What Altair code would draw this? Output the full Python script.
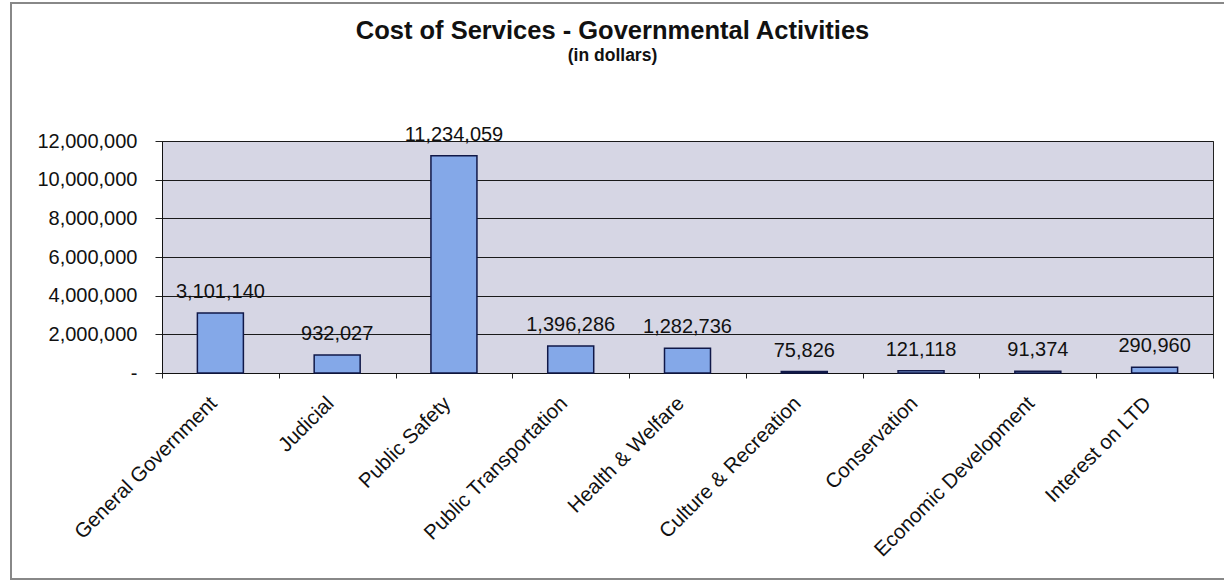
import altair as alt
import pandas as pd

categories = ["General Government", "Judicial", "Public Safety", "Public Transportation",
              "Health & Welfare", "Culture & Recreation", "Conservation",
              "Economic Development", "Interest on LTD"]
values = [3101140, 932027, 11234059, 1396286, 1282736, 75826, 121118, 91374, 290960]
y_ticks = [0, 2000000, 4000000, 6000000, 8000000, 10000000, 12000000]

df = pd.DataFrame({"category": categories, "value": values})
frame_df = pd.DataFrame({"k": [0]})

FONT = "Liberation Sans"
W, H = 1051, 232

x_enc = alt.X("category:N", sort=categories,
              scale=alt.Scale(paddingInner=0, paddingOuter=0),
              axis=alt.Axis(title=None, labelAngle=-45, labelFontSize=20.5, labelFont=FONT,
                            labelColor="#111", tickBand="extent", tickSize=5,
                            tickColor="#222", domainColor="#111", labelPadding=22,
                            labelOffset=-7,
                            labelAlign="right", labelBaseline="middle", labelLimit=0,
                            labelOverlap=False))
y_enc = alt.Y("value:Q", scale=alt.Scale(domain=[0, 12000000], nice=False),
              axis=alt.Axis(title=None, values=y_ticks, labelFontSize=20, labelFont=FONT,
                            labelColor="#111", tickSize=7, tickColor="#222",
                            labelPadding=18, domainColor="#111", labelOverlap=False,
                            grid=True, gridColor="#1a1a1a", gridWidth=1,
                            labelExpr="datum.value == 0 ? '-' : format(datum.value, ',')"))

base = alt.Chart(df).encode(x=x_enc, y=y_enc)
bars = base.mark_bar(width=46, color="#84A8E8", stroke="#101848", strokeWidth=1.5)
labels = base.mark_text(fontSize=20, font=FONT, color="#111", baseline="middle",
                        dy=-21).encode(text=alt.Text("value:Q", format=","))

border = alt.Chart(frame_df).mark_rect(fill=None, stroke="#888", strokeWidth=2).encode(
    x=alt.value(-151), x2=alt.value(W + 30), y=alt.value(-138), y2=alt.value(H + 206))

chart = alt.layer(border, bars, labels).properties(
    width=W, height=H,
    title=alt.TitleParams(
        text="Cost of Services - Governmental Activities",
        subtitle="(in dollars)",
        fontSize=25.5, font=FONT, fontWeight="bold", color="#111",
        subtitleFontSize=17.5, subtitleFont=FONT, subtitleFontWeight="bold",
        subtitleColor="#111", anchor="middle", frame="group", dx=-75, offset=-62,
        subtitlePadding=2),
    autosize=alt.AutoSizeParams(type="none"),
    padding={"left": 162, "top": 141, "right": 11, "bottom": 211},
    background="white",
).configure_view(fill="#D6D6E4", stroke="#222", strokeWidth=1)

chart.save("out.html", embed_options={"renderer": "svg", "actions": False})
